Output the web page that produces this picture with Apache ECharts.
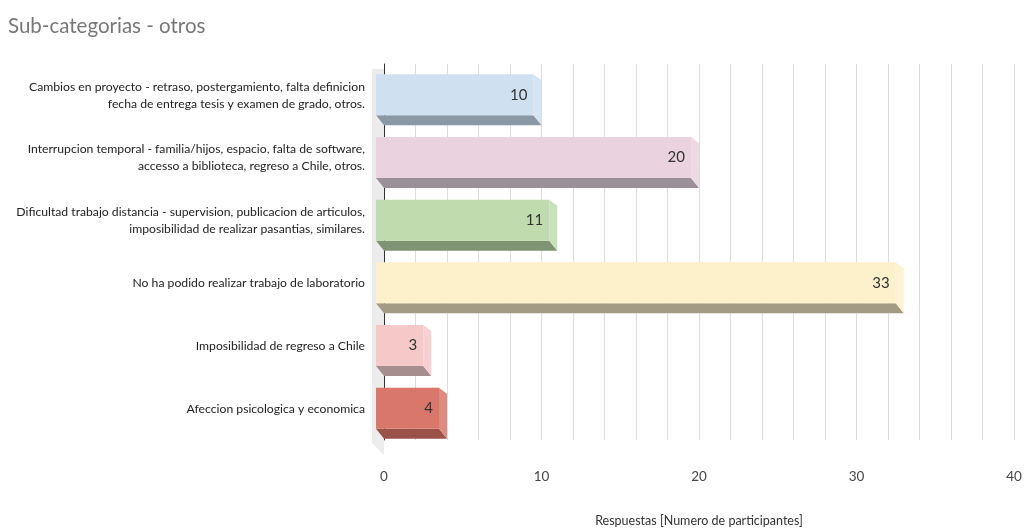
<!DOCTYPE html>
<html>
<head>
<meta charset="utf-8">
<script src="https://cdn.jsdelivr.net/npm/echarts@6/dist/echarts.min.js"></script>
<style>
  html, body { margin: 0; padding: 0; background: #fff; }
  #chart { width: 1024px; height: 531px; }
</style>
</head>
<body>
<div id="chart"></div>
<script>
const categories = [
  'Cambios en proyecto - retraso, postergamiento, falta definicion\nfecha de entrega tesis y examen de grado, otros.',
  'Interrupcion temporal - familia/hijos, espacio, falta de software,\naccesso a biblioteca, regreso a Chile, otros.',
  'Dificultad trabajo distancia - supervision, publicacion de articulos,\nimposibilidad de realizar pasantias, similares.',
  'No ha podido realizar trabajo de laboratorio',
  'Imposibilidad de regreso a Chile',
  'Afeccion psicologica y economica'
]
const values = [10, 20, 11, 33, 3, 4]
const frontColors = ['#cfe0f1', '#ead3de', '#c0dcae', '#fdf1cc', '#f6c9c9', '#d9786a']
const bottomColors = ['#8a97a4', '#9c9098', '#7f9474', '#a39c82', '#a68e8e', '#9a5248']

const FONT = "Lato, 'Open Sans', sans-serif"

const chart = echarts.init(document.getElementById('chart'))

const renderBar = (params, api) => {
  const idx = api.value(0)
  const v = api.value(1)
  const c0 = api.coord([0, idx])
  const cv = api.coord([v, idx])
  const x0 = c0[0], xv = cv[0], yc = cv[1]
  const d = 8
  const top = yc - 21, bot = yc + 20, depth = 10
  return {
    type: 'group',
    children: [
      {
        type: 'polygon',
        shape: { points: [[x0 - d, bot], [xv - d, bot], [xv, bot + depth], [x0, bot + depth]] },
        style: { fill: bottomColors[idx] }
      },
      {
        type: 'polygon',
        shape: { points: [[xv - d, top], [xv, top + 6], [xv, bot + depth], [xv - d, bot]] },
        style: { fill: frontColors[idx], opacity: 0.85 }
      },
      {
        type: 'rect',
        shape: { x: x0 - d, y: top, width: xv - x0, height: bot - top },
        style: { fill: frontColors[idx] }
      },
      {
        type: 'text',
        style: {
          text: String(v),
          x: xv - d - 6,
          y: (top + bot) / 2,
          align: 'right',
          verticalAlign: 'middle',
          fill: '#333',
          font: '15px ' + FONT
        }
      }
    ]
  }
}

chart.setOption({
  backgroundColor: '#fff',
  animation: false,
  title: {
    text: 'Sub-categorias - otros',
    left: 3,
    top: 11,
    textStyle: { fontFamily: FONT, fontSize: 20.5, fontWeight: 'normal', color: '#777' }
  },
  graphic: [{
    type: 'polygon',
    shape: { points: [[372, 69], [384, 69], [384, 455], [372, 443]] },
    style: { fill: '#ececec' },
    z: 0
  }],
  grid: { left: 384, right: 10, top: 64, bottom: 91, outerBoundsMode: 'none', containLabel: false },
  xAxis: {
    type: 'value',
    min: 0,
    max: 40,
    interval: 10,
    name: 'Respuestas [Numero de participantes]',
    nameLocation: 'middle',
    nameGap: 74,
    nameTextStyle: { fontFamily: FONT, fontSize: 12.5, color: '#333' },
    axisLine: { show: false },
    axisTick: { show: false },
    axisLabel: { margin: 30, fontFamily: FONT, fontSize: 13.5, color: '#444' },
    splitLine: { lineStyle: { color: '#dcdcdc' } },
    minorTick: { show: false, splitNumber: 5 },
    minorSplitLine: { show: true, lineStyle: { color: '#dcdcdc' } }
  },
  yAxis: {
    type: 'category',
    inverse: true,
    data: categories,
    axisLine: { show: true, lineStyle: { color: '#333', width: 1 } },
    axisTick: { show: false },
    axisLabel: {
      margin: 19,
      fontFamily: FONT,
      fontSize: 12.2,
      lineHeight: 17,
      color: '#222',
      align: 'right'
    }
  },
  series: [{
    type: 'custom',
    renderItem: renderBar,
    encode: { x: 1, y: 0 },
    data: values.map((v, i) => [i, v]),
    z: 5
  }]
})
</script>
</body>
</html>
